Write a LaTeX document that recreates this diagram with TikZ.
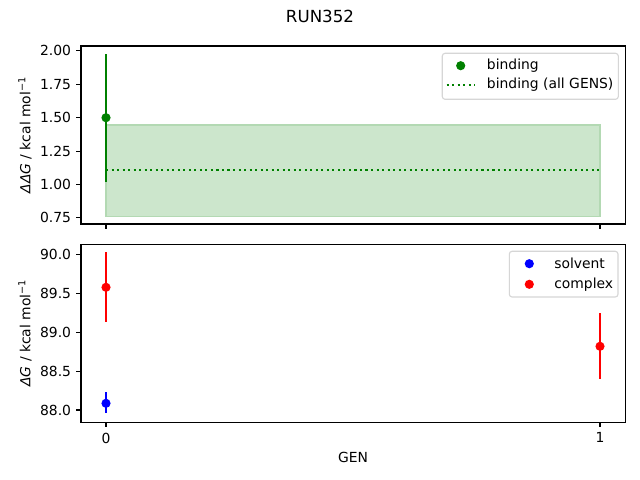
\documentclass[tikz,border=0pt]{standalone}
\usepackage{fontspec}
\setmainfont{DejaVu Sans}
\definecolor{mgreen}{HTML}{008000}
\definecolor{band}{HTML}{CCE6CC}
\definecolor{bandedge}{HTML}{B3D9B3}
\definecolor{legedge}{HTML}{D6D6D6}
\begin{document}
\begin{tikzpicture}[x=0.72pt,y=-0.72pt,
  spine/.style={draw=black,line width=0.8pt},
  tickmark/.style={line width=0.8pt},
  ylab/.style={anchor=east,inner sep=0pt,font=\fontsize{10}{12}\selectfont},
  xlab/.style={anchor=north,inner sep=0pt,font=\fontsize{10}{12}\selectfont},
  errbar/.style={line width=1.5pt},
  dotmark/.style={circle,inner sep=0pt,minimum size=6.6pt},
  legbox/.style={draw=legedge,fill=white,line width=0.8pt,rounded corners=2pt},
  legtext/.style={anchor=west,inner sep=0pt,font=\fontsize{10}{12}\selectfont},
  axlabel/.style={inner sep=0pt,font=\fontsize{10}{12}\selectfont}]
\useasboundingbox (0,0) rectangle (640,480);
\fill[white] (0,0) rectangle (640,480);
% title
\node[inner sep=0pt,font=\fontsize{12}{14}\selectfont] (title) at (320,16.7) {RUN352};
% ---------------- top axes
\fill[band] (106,125) rectangle (600,216.7);
\draw[bandedge,line width=0.8pt] (106,125) rectangle (600,216.7);
\draw[mgreen,line width=1.5pt,dash pattern=on 1.5pt off 2.475pt] (106,170) -- (600,170);
\draw[errbar,mgreen] (106,54.3) -- (106,181.7);
\node[dotmark,fill=mgreen] (g0) at (106,117.7) {};
\draw[spine] (81,46) rectangle (625.3,224);
\foreach \v/\y in {2.00/50.9,1.75/84.3,1.50/117.7,1.25/151.1,1.00/184.5,0.75/217.9}{
  \draw[tickmark] (81,\y) -- ++(-4.86,0);
  \node[ylab] at (71.3,\y) {\v};
}
\foreach \x in {106,600}{\draw[tickmark] (\x,224) -- ++(0,4.86);}
\node[axlabel,rotate=90] (ylabtop) at (25,135) {\textit{ΔΔG} / kcal mol\textsuperscript{−1}};
% top legend
\draw[legbox] (442.3,53.3) rectangle (618.3,99.3);
\node[dotmark,fill=mgreen] (lg1) at (460.7,65.7) {};
\draw[mgreen,line width=1.5pt,dash pattern=on 1.5pt off 2.475pt] (446.7,85) -- (474.5,85);
\node[legtext] (lt1) at (486.7,65.7) {binding};
\node[legtext] (lt2) at (486.7,85) {binding (all GENS)};
% ---------------- bottom axes
\draw[errbar,red] (106,252) -- (106,322.3);
\node[dotmark,fill=red] (r0) at (106,287.3) {};
\draw[errbar,blue] (106,392.3) -- (106,413.3);
\node[dotmark,fill=blue] (b0) at (106,403.3) {};
\draw[errbar,red] (600,313.3) -- (600,378.7);
\node[dotmark,fill=red] (r1) at (600,346.3) {};
\draw[spine] (81,244.3) rectangle (625.3,422.3);
\foreach \v/\y in {90.0/254.4,89.5/293.3,89.0/332.2,88.5/371.1,88.0/410}{
  \draw[tickmark] (81,\y) -- ++(-4.86,0);
  \node[ylab] at (71.3,\y) {\v};
}
\draw[tickmark] (106,422.3) -- ++(0,4.86);
\draw[tickmark] (600,422.3) -- ++(0,4.86);
\node[xlab] (xt0) at (106,432.5) {0};
\node[xlab] (xt1) at (600,432.5) {1};
\node[axlabel] (xl) at (353,457) {GEN};
\node[axlabel,rotate=90] (ylabbot) at (25,333) {\textit{ΔG} / kcal mol\textsuperscript{−1}};
% bottom legend
\draw[legbox] (509.3,251.3) rectangle (618,297);
\node[dotmark,fill=blue] (lb1) at (529.3,263.7) {};
\node[dotmark,fill=red] (lb2) at (529.3,284.3) {};
\node[legtext] (lt3) at (554,263.7) {solvent};
\node[legtext] (lt4) at (554,284.3) {complex};
\end{tikzpicture}
\end{document}
